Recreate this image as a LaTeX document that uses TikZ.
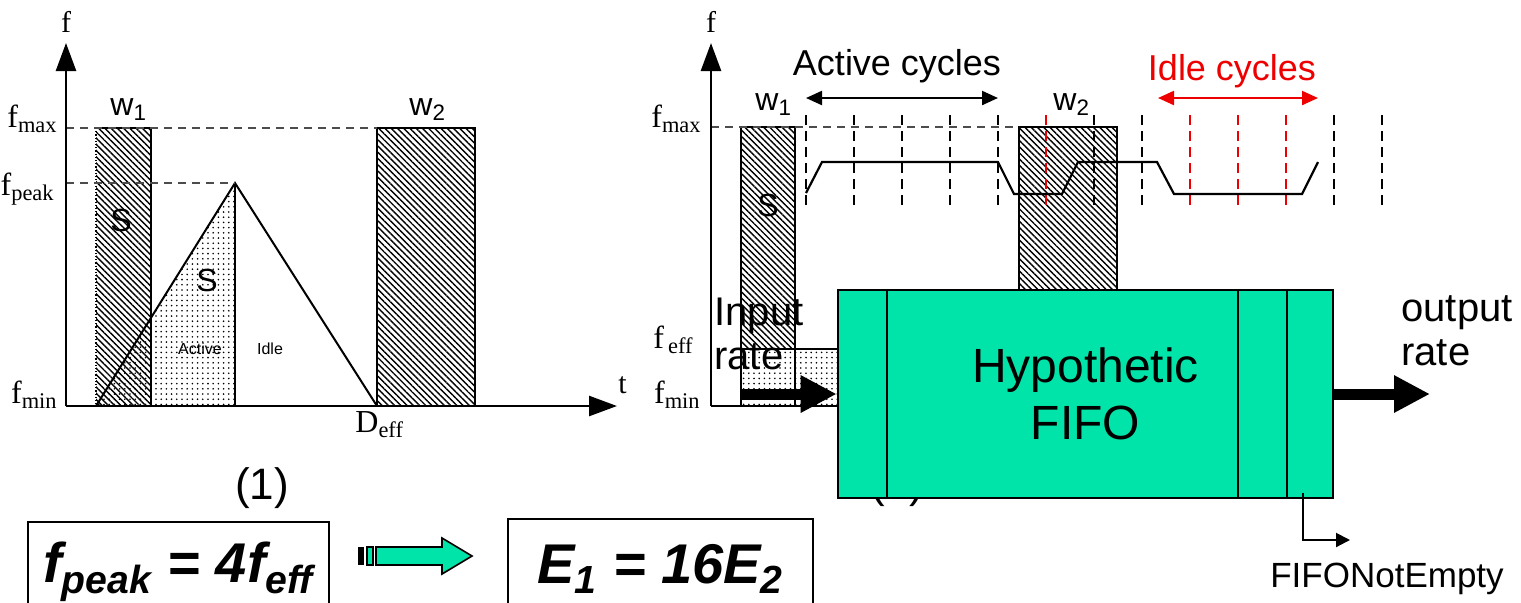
\documentclass[tikz,border=0pt]{standalone}
\usepackage{fontspec}
\setmainfont{Liberation Sans}
\newfontfamily\seriffont{Liberation Serif}
\usetikzlibrary{
  arrows.meta,
  positioning,
  patterns.meta
}
\definecolor{fifogreen}{RGB}{0,228,169}
\definecolor{idlered}{RGB}{238,0,0}
\newcommand{\fsub}[1]{f\textsubscript{#1}}

\begin{document}
\begin{tikzpicture}[
  x=0.5pt, y=-0.5pt,
  axis/.style={line width=1.3pt, -{Triangle[length=14pt, width=10pt]}},
  level/.style={gray!60!black, line width=0.7pt, dash pattern=on 4pt off 3pt},
  hatched/.style={pattern={Lines[angle=-45, distance=2.2pt, line width=0.7pt]}},
  speckled/.style={pattern={Dots[distance=2.6pt, radius=0.45pt]}},
  outline/.style={line width=1pt},
  tick/.style={line width=1.3pt, dash pattern=on 5pt off 3pt},
  flabel/.style={font=\seriffont\fontsize{16}{16}\selectfont, inner sep=0pt},
  wlabel/.style={font=\fontsize{16}{16}\selectfont, inner sep=0pt},
  small/.style={font=\fontsize{8}{8}\selectfont, inner sep=0pt},
  cyclelbl/.style={font=\fontsize{18}{18}\selectfont, inner sep=0pt},
  rate/.style={font=\fontsize{20}{22}\selectfont, inner sep=0pt, align=left},
  span/.style={line width=1.1pt, {Triangle[length=8pt, width=7pt]}-{Triangle[length=8pt, width=7pt]}},
  fat/.style={line width=5.5pt, -{Triangle[length=18pt, width=17.5pt]}},
  fifo/.style={
    draw,
    line width=1.3pt,
    fill=fifogreen,
    minimum width=247.5pt,
    minimum height=104pt,
    inner sep=0pt,
    align=center,
    font=\fontsize{24}{28.5}\selectfont
  },
  eqbox/.style={
    draw,
    line width=1pt,
    anchor=north west,
    minimum height=50pt,
    inner sep=0pt,
    font=\fontsize{28}{28}\bfseries\itshape\selectfont
  }
]
\useasboundingbox (0,0) rectangle (1521,602);
\clip (0,0) rectangle (1521,602);

% left graph
\fill[hatched] (96,128) rectangle (151,406);
\fill[speckled] (96,406) -- (235,183) -- (235,406) -- cycle;
\draw[outline] (96,128) -- (151,128) -- (151,406);
\draw[densely dotted, line width=0.6pt] (96,128) -- (96,406);
\draw[outline] (96,406) -- (235,183) -- (377,406);
\draw[outline] (235,183) -- (235,406);
\draw[outline, hatched] (377,128) rectangle (475,406);
\draw[level] (66,128) -- (377,128);
\draw[level] (66,183) -- (235,183);
\draw[axis] (66,406) -- (66,43);
\draw[axis] (66,406) -- (617,406);

\node[flabel, font=\seriffont\fontsize{15}{15}\selectfont] (lf) at (66,22) {f};
\node[flabel, font=\seriffont\fontsize{15}{15}\selectfont, anchor=base west] (lt) at (618,393) {t};
\node[flabel, anchor=base east] (lmax) at (58,127) {\fsub{max}};
\node[flabel, anchor=base east] (lpeak) at (55,195) {\fsub{peak}};
\node[flabel, anchor=base east] (lmin) at (58,403) {\fsub{min}};
\node[flabel, anchor=base west] (deff) at (355,432) {D\textsubscript{eff}};
\node[wlabel, anchor=base west] (lw1) at (110,115) {w\textsubscript{1}};
\node[wlabel, anchor=base west] (lw2) at (409,115) {w\textsubscript{2}};
\node[wlabel] (ls1) at (121,220) {S};
\node[wlabel] (ls2) at (207,280) {S};
\node[small] (active) at (200,349) {Active};
\node[small] (idle) at (270,349) {Idle};
\node[font=\fontsize{22}{22}\selectfont] (one) at (262,488) {(1)};

% right graph
\node[font=\fontsize{22}{22}\selectfont] (two) at (897,486) {(2)};
\draw[outline, hatched] (1019,127) rectangle (1117,290);
\fill[hatched] (741,127) rectangle (795,349);
\fill[speckled] (741,349) rectangle (838,406);
\draw[outline] (741,406) -- (741,127) -- (795,127) -- (795,406);
\draw[outline] (741,349) -- (838,349);
\draw[outline] (711,406) -- (838,406);
\draw[level] (711,127) -- (1019,127);
\foreach \cx/\tickcol in {806/black, 854/black, 902/black, 950/black, 998/black,
    1046/idlered, 1094/black, 1142/black, 1190/idlered, 1238/idlered,
    1286/idlered, 1334/black, 1382/black}
  \draw[tick, \tickcol] (\cx,115) -- (\cx,210);
\draw[line width=1.1pt] (806,193) -- (822,162) -- (998,162) -- (1014,194)
  -- (1062,194) -- (1078,162) -- (1157,162) -- (1174,194) -- (1302,194) -- (1318,162);
\draw[axis] (711,406) -- (711,43);

\coordinate (actL) at (806,98);
\coordinate (actR) at (998,98);
\coordinate (idlL) at (1158,98);
\coordinate (idlR) at (1318,98);
\draw[span] (actL) -- (actR);
\draw[span, idlered] (idlL) -- (idlR);
\node[cyclelbl, anchor=base] (actlbl) at (897,75) {Active cycles};
\node[cyclelbl, anchor=base, text=idlered] (idllbl) at (1232,80) {Idle cycles};

\node[flabel, font=\seriffont\fontsize{15}{15}\selectfont] (rf) at (711,22) {f};
\node[flabel, anchor=base east] (rmax) at (702,127) {\fsub{max}};
\node[flabel, anchor=base east] (reff) at (694,348) {f\kern2pt\textsubscript{eff}};
\node[flabel, anchor=base east] (rmin) at (701,403) {\fsub{min}};
\node[wlabel, anchor=base west] (rw1) at (755,110) {w\textsubscript{1}};
\node[wlabel, anchor=base west] (rw2) at (1053,110) {w\textsubscript{2}};
\node[wlabel] (rs1) at (768,205) {S};

% FIFO
\node[fifo] (fifo) at (1085.5,394) {Hypothetic\\FIFO};
\foreach \dx in {887,1238,1287}
  \draw[line width=1.3pt] (\dx,290) -- (\dx,498);
\node[rate, anchor=base west] (inrate) at (714,369) {Input\\rate};
\node[rate, anchor=base west] (outrate) at (1401,365) {output\\rate};
\coordinate (inStart) at (741,394);
\coordinate (outEnd) at (1430,394);
\draw[fat] (inStart) -- (fifo.west);
\draw[fat] (fifo.east) -- (outEnd);
\coordinate (neTop) at (1303,493);
\coordinate (neEnd) at (1350,540);
\draw[line width=1pt, -{Triangle[length=7pt, width=7pt]}] (neTop) |- (neEnd);
\node[cyclelbl, font=\fontsize{17.5}{17.5}\selectfont, anchor=base] (notempty) at (1387,587) {FIFONotEmpty};

% result
\node[eqbox, minimum width=150.5pt] (peak) at (27,521) {\fsub{peak} = 4\fsub{eff}};
\node[eqbox, minimum width=152.5pt] (energy) at (507,518) {E\textsubscript{1} = 16E\textsubscript{2}};
\fill (358,547) rectangle (364,565);
\draw[line width=0.8pt, fill=fifogreen] (367,547) rectangle (373,565);
\draw[line width=0.8pt, fill=fifogreen] (376,547) -- (442,547) -- (442,538) -- (472,556)
  -- (442,574) -- (442,565) -- (376,565) -- cycle;

\end{tikzpicture}
\end{document}
